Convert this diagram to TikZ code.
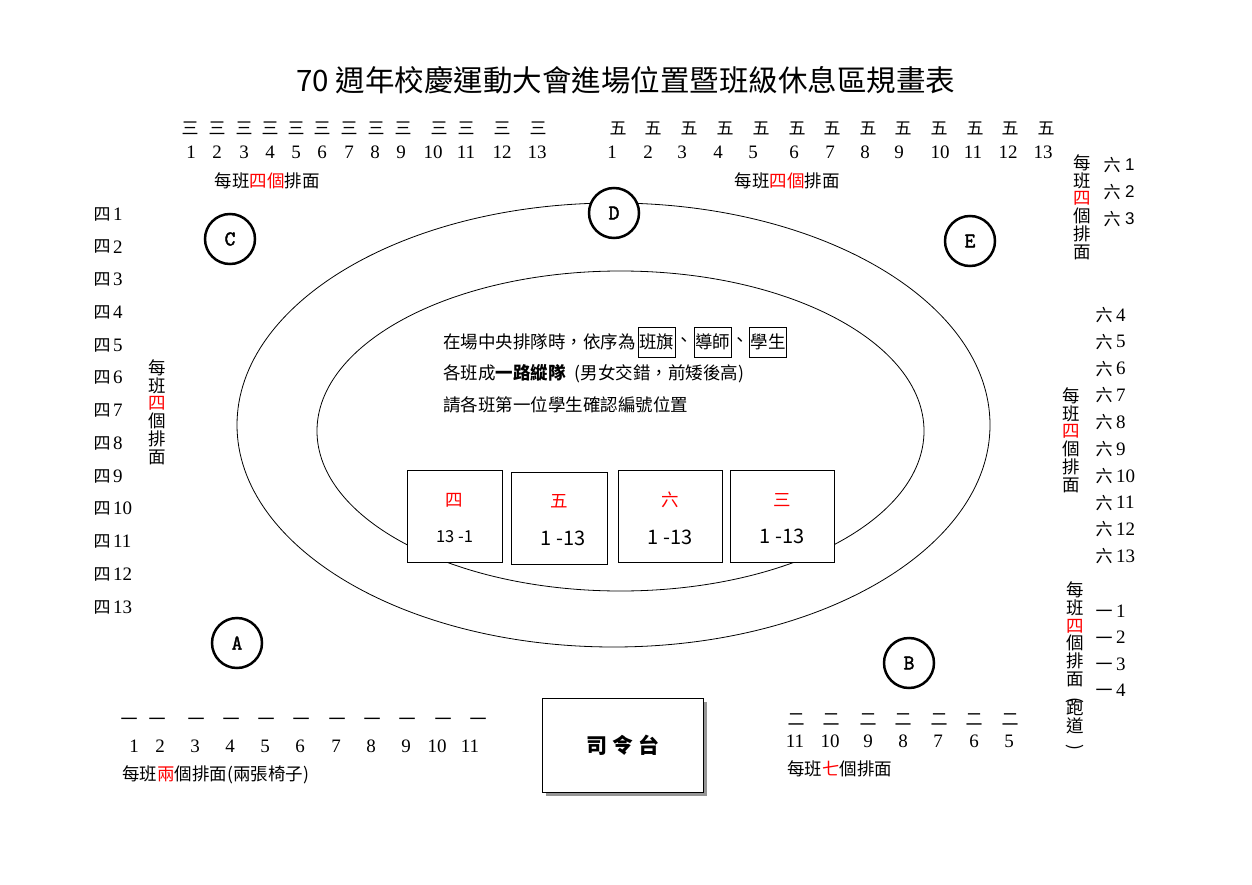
\documentclass[tikz,border=0pt]{standalone}
\usepackage{fontspec}
\usepackage{graphicx}
\usepackage{tikz}
\usetikzlibrary{positioning,shadows}
\setmainfont{Liberation Serif}
\setsansfont{Liberation Sans}
\newfontfamily\cjk{Noto Sans CJK TC}
\newfontfamily\spotfont{Latin Modern Mono}[FakeBold=2]
\definecolor{shadowgray}{RGB}{150,150,150}

\begin{document}
\begin{tikzpicture}[x=1pt,y=-1pt,inner sep=0pt]
\tikzstyle{cls}=[font=\cjk\fontsize{17}{17}\selectfont]
\tikzstyle{num}=[font=\fontsize{19}{19}\selectfont]
\tikzstyle{note}=[font=\cjk\fontsize{17.5}{17.8}\selectfont]
\tikzstyle{spot}=[circle, minimum size=50pt, line width=2.5pt, draw=black, fill=white, font=\spotfont\fontsize{21}{21}\selectfont]
\tikzstyle{lane}=[line width=0.8pt, draw=black]
\tikzstyle{block}=[rectangle, minimum height=92pt, line width=0.9pt, draw=black, fill=white]
\tikzstyle{tag}=[rectangle, inner xsep=1pt, minimum height=30pt, line width=0.8pt, draw=black]
\tikzstyle{seq}=[font=\cjk\fontsize{20}{20}\selectfont]
\useasboundingbox (0,0) rectangle (1252,885);

% title
\node[font=\cjk\fontsize{29.5}{29.5}\selectfont] (title) at (626,80) {70 週年校慶運動大會進場位置暨班級休息區規畫表};

% track
\draw[lane] (613.5,425) ellipse [x radius=376.5pt, y radius=222pt];
\draw[lane] (620.5,431) ellipse [x radius=303.5pt, y radius=160pt];

\node[spot] (spotC) at (230,239) {C};
\node[spot] (spotD) at (614,213) {D};
\node[spot] (spotE) at (970,241) {E};
\node[spot] (spotA) at (237,643) {A};
\node[spot] (spotB) at (909,663) {B};

% grade 3, top left
\foreach \x/\n [count=\i] in {190/191,217/217,244/244,270/270,296/296,322/322,349/349,376/375,403/401,439/433,466/466,502/502,538/537} {
  \node[cls] (san\i) at (\x,128) {三};
  \node[num] (sannum\i) at (\n,152) {\i};
}
\node[note] (sanrow) at (267,181) {每班\textcolor{red}{四個}排面};

% grade 5, top right
\foreach \x/\n [count=\i] in {618/612,653/648,689/682,725/718,761/753,797/794,832/830,868/865,903/899,939/940,975/973,1010/1008,1046/1043} {
  \node[cls] (wu\i) at (\x,128) {五};
  \node[num] (wunum\i) at (\n,152) {\i};
}
\node[note] (wurow) at (787,181) {每班\textcolor{red}{四個}排面};

% grade 4, left side
\foreach \i in {1,...,13} {
  \node[cls] (si\i) at (102,{214+32.75*(\i-1)}) {四};
  \node[num, anchor=west] (sinum\i) at (113,{214+32.75*(\i-1)}) {\i};
}
\node[note, align=center] (sicol) at (157,412) {每\\班\\\textcolor{red}{四}\\個\\排\\面};

% grade 6, right side
\foreach \i in {1,2,3} {
  \node[cls] (liu\i) at (1112,{165+27*(\i-1)}) {六};
  \node[font=\sffamily\fontsize{17}{17}\selectfont, anchor=west] (liunum\i) at (1125,{165+27*(\i-1)}) {\i};
}
\node[note, align=center] (liutop) at (1082,207) {每\\班\\\textcolor{red}{四}\\個\\排\\面};
\foreach \i in {4,...,13} {
  \node[cls] (liu\i) at (1104,{315+26.8*(\i-4)}) {六};
  \node[num, anchor=west] (liunum\i) at (1116,{315+26.8*(\i-4)}) {\i};
}
\node[note, align=center] (liucol) at (1071,440) {每\\班\\\textcolor{red}{四}\\個\\排\\面};

% grade 1, runway
\foreach \i in {1,...,4} {
  \node[cls] (yir\i) at (1104,{614+26.4*(\i-1)}) {一};
  \node[num, anchor=west] (yirnum\i) at (1116,{611+26.4*(\i-1)}) {\i};
}
\node[note, align=center] (yicol) at (1075,666) {每\\班\\\textcolor{red}{四}\\個\\排\\面\\[-6pt]\rotatebox{-90}{(}\\[-4pt]跑\\道\\[-6pt]\rotatebox{-90}{)}};

% centre field
\node[note, anchor=west] (order) at (443,342) {在場中央排隊時，依序為};
\node[note, tag, right=2pt of order] (flag) {班旗};
\node[note, right=0pt of flag] (dota) {、};
\node[note, tag, right=0pt of dota] (tutor) {導師};
\node[note, right=0pt of tutor] (dotb) {、};
\node[note, tag, right=0pt of dotb] (pupil) {學生};
\node[note, anchor=west] (column) at (443,374) {各班成\textbf{一路縱隊}\hspace{9pt}(男女交錯，前矮後高)};
\node[note, anchor=west] (check) at (443,405) {請各班第一位學生確認編號位置};

\node[block, minimum width=95pt] (gradefour) at (454.5,516) {};
\node[note, text=red] (fourname) at (454.5,500) {四};
\node[font=\cjk\fontsize{16.5}{16.5}\selectfont] (fourseq) at (454.5,537) {13 -1};
\node[block, minimum width=96pt] (gradefive) at (559,518) {};
\node[note, text=red] (fivename) at (559,501) {五};
\node[seq] (fiveseq) at (563,538) {1 -13};
\node[block, minimum width=104pt] (gradesix) at (670,516) {};
\node[note, text=red] (sixname) at (670,500) {六};
\node[seq] (sixseq) at (670,537) {1 -13};
\node[block, minimum width=104pt] (gradethree) at (782,516) {};
\node[note, text=red] (threename) at (782,500) {三};
\node[seq] (threeseq) at (782,536) {1 -13};

% grade 1, bottom left
\foreach \x/\n [count=\i] in {129/134,157/160,196/195,231/230,266/265,301/300,337/336,372/371,407/406,443/437,478/470} {
  \node[cls] (yi\i) at (\x,722) {一};
  \node[num] (yinum\i) at (\n,746) {\i};
}
\node[note, anchor=west] (chairs) at (122,775) {每班\textcolor{red}{兩}個排面(兩張椅子)};

% grade 2, bottom right
\foreach \x/\n/\k in {796/795/11,831/830/10,868/868/9,903/903/8,939/938/7,974/974/6,1010/1009/5} {
  \node[cls] (er\k) at (\x,720) {二};
  \node[num] (ernum\k) at (\n,741) {\k};
}
\node[note, anchor=west] (sevenrow) at (787,769) {每班\textcolor{red}{七}個排面};

% stage
\node[rectangle, draw=black, line width=1pt, fill=white, minimum width=161pt, minimum height=94pt, drop shadow={shadow xshift=4pt, shadow yshift=-4pt, fill=shadowgray, opacity=1}, font=\cjk\bfseries\fontsize{21}{21}\selectfont] (stage) at (622.5,745) {司\hspace{5pt}令\hspace{5pt}台};
\end{tikzpicture}
\end{document}
